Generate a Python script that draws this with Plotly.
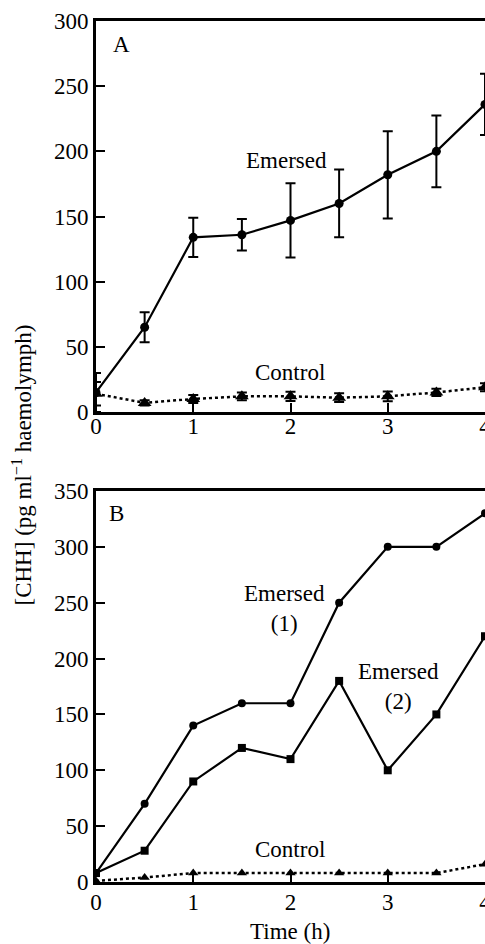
import plotly.graph_objects as go

# ---- data ----
time_h = [0, 0.5, 1, 1.5, 2, 2.5, 3, 3.5, 4]

# Panel A
emersed_a = [15, 65, 134, 136, 147, 160, 182, 200, 236]
emersed_a_err = [15, 11.5, 15, 12, 28.5, 26, 33.5, 27.5, 23.5]
control_a = [14, 7, 10, 12, 12, 11, 12, 15, 19]
control_a_err = [9, 2, 3, 3, 3.5, 3.4, 3.7, 2.8, 3]

# Panel B
emersed1_b = [8, 70, 140, 160, 160, 250, 300, 300, 330]
emersed2_b = [8, 28, 90, 120, 110, 180, 100, 150, 220]
control_b = [1, 4, 8, 8, 8, 8, 8, 8, 16]

x_ticks = [0, 1, 2, 3, 4]
y_ticks_a = [0, 50, 100, 150, 200, 250, 300]
y_ticks_b = [0, 50, 100, 150, 200, 250, 300, 350]

FONT = "Liberation Serif, Times New Roman, Tinos, Nimbus Roman, DejaVu Serif, serif"
W, H = 485, 944
L = 96


def py(px):
    return 1 - px / H

fig = go.Figure()

# Panel A
fig.add_trace(go.Scatter(
    x=time_h, y=control_a, mode="lines+markers", xaxis="x", yaxis="y",
    line=dict(color="black", width=2.5, dash="dot"),
    marker=dict(symbol="triangle-up", size=12, color="black"),
    error_y=dict(type="data", array=control_a_err, visible=True,
                 thickness=2, width=5, color="black"),
    showlegend=False))
fig.add_trace(go.Scatter(
    x=time_h, y=emersed_a, mode="lines+markers", xaxis="x", yaxis="y",
    line=dict(color="black", width=2.2),
    marker=dict(symbol="circle", size=9, color="black"),
    error_y=dict(type="data", array=emersed_a_err, visible=True,
                 thickness=2, width=5, color="black"),
    showlegend=False))

# Panel B
fig.add_trace(go.Scatter(
    x=time_h, y=control_b, mode="lines+markers", xaxis="x2", yaxis="y2",
    line=dict(color="black", width=2.5, dash="dot"),
    marker=dict(symbol="triangle-up", size=9, color="black"),
    showlegend=False))
fig.add_trace(go.Scatter(
    x=time_h, y=emersed2_b, mode="lines+markers", xaxis="x2", yaxis="y2",
    line=dict(color="black", width=2.2),
    marker=dict(symbol="square", size=8, color="black"),
    showlegend=False))
fig.add_trace(go.Scatter(
    x=time_h, y=emersed1_b, mode="lines+markers", xaxis="x2", yaxis="y2",
    line=dict(color="black", width=2.2),
    marker=dict(symbol="circle", size=8, color="black"),
    showlegend=False))

axis_common = dict(
    showline=True, linecolor="black", linewidth=3,
    ticks="inside", ticklen=9, tickwidth=2, tickcolor="black",
    showgrid=False, zeroline=False, automargin=False,
    ticklabeloverflow="allow",
    tickfont=dict(family=FONT, size=23, color="black"),
)

fig.update_layout(
    width=W, height=H,
    margin=dict(l=L, r=0, t=0, b=0, pad=0),
    paper_bgcolor="white", plot_bgcolor="white",
    font=dict(family=FONT, size=23, color="black"),
    xaxis=dict(**axis_common, range=[0, 4], tickvals=x_ticks, anchor="y",
               mirror=True, domain=[0, 1], ticklabelstandoff=-9),
    yaxis=dict(**axis_common, range=[0, 300], tickvals=y_ticks_a, anchor="x",
               domain=[py(412), py(21)]),
    xaxis2=dict(**axis_common, range=[0, 4], tickvals=x_ticks, anchor="y2",
                mirror=True, domain=[0, 1], ticklabelstandoff=-3),
    yaxis2=dict(**axis_common, range=[0, 350], tickvals=y_ticks_b, anchor="x2",
                domain=[py(882), py(491)]),
)

ann_font = dict(family=FONT, size=23, color="black")
annotations = [
    dict(text="A", x=0.154, y=282, xref="x", yref="y", xanchor="left", yanchor="middle"),
    dict(text="Emersed", x=1.96, y=193, xref="x", yref="y"),
    dict(text="Control", x=1.99, y=30, xref="x", yref="y"),
    dict(text="B", x=0.113, y=330, xref="x2", yref="y2", xanchor="left", yanchor="middle"),
    dict(text="Emersed<br>(1)", x=1.94, y=245, xref="x2", yref="y2"),
    dict(text="Emersed<br>(2)", x=3.11, y=175, xref="x2", yref="y2"),
    dict(text="Control", x=1.99, y=29.5, xref="x2", yref="y2"),
    dict(text="Time (h)", x=1.99, y=py(931.5), xref="x2", yref="paper"),
    dict(text="[CHH] (pg ml<sup>\u22121</sup> haemolymph)", x=(22 - L) / (W - L),
         y=py(465.5), xref="paper", yref="paper", textangle=-90),
]
for a in annotations:
    a.setdefault("xanchor", "center")
    a.setdefault("yanchor", "middle")
    a["showarrow"] = False
    a["font"] = ann_font
fig.update_layout(annotations=annotations)

fig.write_html(
    "out.html",
    config={"displayModeBar": False},
    post_script="document.body.style.margin='0';document.body.style.overflow='hidden';",
)
